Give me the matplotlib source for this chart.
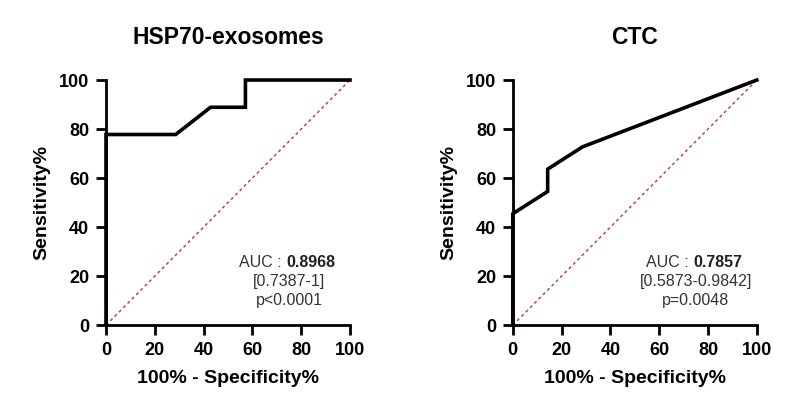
import matplotlib
matplotlib.use("Agg")
import matplotlib.pyplot as plt

plt.rcParams['font.family'] = ['Liberation Sans', 'DejaVu Sans']

titles = ["HSP70-exosomes", "CTC"]
hsp_x = [0, 0, 28.57, 42.86, 57.14, 57.14, 100]
hsp_y = [0, 77.78, 77.78, 88.89, 88.89, 100, 100]
ctc_x = [0, 0, 14.29, 14.29, 28.57, 100]
ctc_y = [0, 45.45, 54.55, 63.64, 72.73, 100]
auc_vals = ["0.8968", "0.7857"]
ci_vals = ["[0.7387-1]", "[0.5873-0.9842]"]
p_vals = ["p<0.0001", "p=0.0048"]
ticks = [0, 20, 40, 60, 80, 100]

fig = plt.figure(figsize=(8, 4.19), dpi=100)
positions = [[0.1325, 0.224, 0.305, 0.585], [0.641, 0.224, 0.305, 0.585]]
curves = [(hsp_x, hsp_y), (ctc_x, ctc_y)]

for i in range(2):
    ax = fig.add_axes(positions[i])
    x, y = curves[i]
    ax.plot([0, 100], [0, 100], linestyle=(0, (2, 2)), color='#b8484a', lw=1.1, zorder=2)
    ax.plot(x, y, color='black', lw=2.6, solid_joinstyle='miter', zorder=3, clip_on=False)
    ax.set_xlim(0, 100)
    ax.set_ylim(0, 100)
    ax.set_xticks(ticks)
    ax.set_yticks(ticks)
    for s in ['top', 'right']:
        ax.spines[s].set_visible(False)
    for s in ['left', 'bottom']:
        ax.spines[s].set_linewidth(2)
    ax.tick_params(direction='out', length=7, width=2, labelsize=13, pad=5)
    for lab in ax.get_xticklabels() + ax.get_yticklabels():
        lab.set_fontweight('bold')
    ax.set_xlabel("100% - Specificity%", fontsize=14, fontweight='bold', labelpad=8)
    ax.set_ylabel("Sensitivity%", fontsize=14, fontweight='bold', labelpad=6)
    ax.set_title(titles[i], fontsize=16.5, fontweight='bold', pad=26)
    ax.text(74, 25.5, "AUC : ", ha='right', va='center', fontsize=11.5, color='#333333')
    ax.text(74, 25.5, auc_vals[i], ha='left', va='center', fontsize=11.5, fontweight='bold', color='#222222')
    ax.text(75, 17.8, ci_vals[i], ha='center', va='center', fontsize=11.5, color='#333333')
    ax.text(75, 10.2, p_vals[i], ha='center', va='center', fontsize=11.5, color='#333333')

fig.savefig("out.png", dpi=100)
